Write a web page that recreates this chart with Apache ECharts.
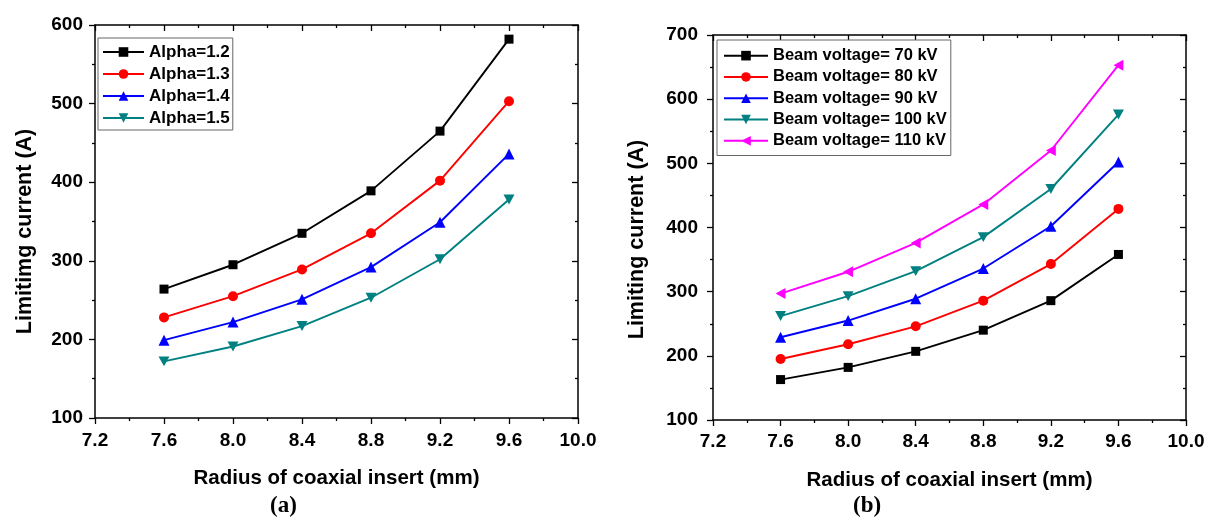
<!DOCTYPE html>
<html>
<head>
<meta charset="utf-8">
<script src="https://cdn.jsdelivr.net/npm/echarts@6/dist/echarts.min.js"></script>
<style>
html,body{margin:0;padding:0;background:#fff;}
#c{width:1211px;height:521px;}
</style>
</head>
<body>
<div id="c"></div>
<script>
// ---- data ----
const radius = [7.6, 8.0, 8.4, 8.8, 9.2, 9.6];
const alphaNames = ['Alpha=1.2', 'Alpha=1.3', 'Alpha=1.4', 'Alpha=1.5'];
const alpha12 = [264, 295, 335, 389, 465, 582];
const alpha13 = [228, 255, 289, 335, 402, 503];
const alpha14 = [199, 222, 251, 292, 349, 436];
const alpha15 = [172, 191, 217, 253, 302, 378];
const voltNames = ['Beam voltage= 70 kV', 'Beam voltage= 80 kV', 'Beam voltage= 90 kV', 'Beam voltage= 100 kV', 'Beam voltage= 110 kV'];
const v70 = [163, 182, 207, 240, 286, 358];
const v80 = [195, 218, 246, 286, 343, 429];
const v90 = [229, 255, 289, 336, 402, 502];
const v100 = [262, 293, 332, 385, 460, 576];
const v110 = [297, 331, 376, 436, 520, 653];
const xTitle = 'Radius of coaxial insert (mm)';
const yTitleA = 'Limitimg current (A)';
const yTitleB = 'Limiting current (A)';
const panelLabels = ['(a)', '(b)'];

// ---- styles ----
const FONT = "'Liberation Sans', Arial, Helvetica, sans-serif";
const colors = ['#000000', '#ff0000', '#0000ff', '#008080', '#ff00ff'];
const SYM_DOWN = 'path://M0,0L10,0L5,9Z';
const SYM_LEFT = 'path://M0,5L9,0L9,10Z';
const symbols = ['rect', 'circle', 'triangle', SYM_DOWN, SYM_LEFT];
const symSizes = [9, 10, 11, 11, 11];

const pairs = arr => radius.map((x, i) => [x, arr[i]]);

function mkSeries(name, arr, idx, axisIdx) {
  return {
    name: name, type: 'line', data: pairs(arr),
    xAxisIndex: axisIdx * 2, yAxisIndex: axisIdx * 2,
    symbol: symbols[idx], symbolSize: symSizes[idx], symbolKeepAspect: true,
    showSymbol: true,
    lineStyle: {color: colors[idx], width: 1.9},
    itemStyle: {color: colors[idx]},
    animation: false, z: 3
  };
}

function xAxes(gridIndex, labelMargin) {
  const common = {
    type: 'value', gridIndex: gridIndex, min: 7.2, max: 10.0, interval: 0.4,
    axisLine: {show: true, onZero: false, lineStyle: {color: '#000', width: 1.5}},
    splitLine: {show: false},
    minorTick: {show: true, splitNumber: 2, length: 3, lineStyle: {color: '#000', width: 1.3}},
    axisTick: {show: true, length: 6, lineStyle: {color: '#000', width: 1.3}}
  };
  return [
    Object.assign({}, common, {
      position: 'bottom',
      axisTick: {show: true, inside: false, length: 6, lineStyle: {color: '#000', width: 1.3}},
      axisLabel: {margin: labelMargin, fontFamily: FONT, fontWeight: 'bold', fontSize: 19, color: '#000',
        formatter: v => v.toFixed(1)},
      name: xTitle, nameLocation: 'middle', nameGap: 50,
      nameTextStyle: {fontFamily: FONT, fontWeight: 'bold', fontSize: 20.5, color: '#000'}
    }),
    Object.assign({}, common, {
      position: 'top',
      axisTick: {show: true, inside: true, length: 6, lineStyle: {color: '#000', width: 1.3}},
      axisLabel: {show: false}
    })
  ];
}

function yAxes(gridIndex, max, title, labelMargin, nameGap, shiftPad) {
  const common = {
    type: 'value', gridIndex: gridIndex, min: 100, max: max, interval: 100,
    axisLine: {show: true, onZero: false, lineStyle: {color: '#000', width: 1.5}},
    splitLine: {show: false},
    minorTick: {show: true, splitNumber: 2, length: 3, lineStyle: {color: '#000', width: 1.3}}
  };
  return [
    Object.assign({}, common, {
      position: 'left',
      axisTick: {show: true, inside: false, length: 6, lineStyle: {color: '#000', width: 1.3}},
      axisLabel: {margin: labelMargin, fontFamily: FONT, fontWeight: 'bold', fontSize: 19, color: '#000'},
      name: title, nameLocation: 'middle', nameGap: nameGap, nameRotate: 90,
      nameTextStyle: {fontFamily: FONT, fontWeight: 'bold', fontSize: 21.5, color: '#000',
        padding: [0, shiftPad, 0, 0]}
    }),
    Object.assign({}, common, {
      position: 'right',
      axisTick: {show: true, inside: true, length: 6, lineStyle: {color: '#000', width: 1.3}},
      axisLabel: {show: false}
    })
  ];
}

const alphaData = [alpha12, alpha13, alpha14, alpha15];
const voltData = [v70, v80, v90, v100, v110];

const series = [];
alphaNames.forEach((n, i) => series.push(mkSeries(n, alphaData[i], i, 0)));
voltNames.forEach((n, i) => series.push(mkSeries(n, voltData[i], i, 1)));

const legendText = size => ({fontFamily: FONT, fontWeight: 'bold', fontSize: size, color: '#000'});

const option = {
  backgroundColor: '#ffffff',
  animation: false,
  grid: [
    {left: 95, top: 25, width: 483, height: 393},
    {left: 713, top: 35, width: 473, height: 385}
  ],
  xAxis: xAxes(0, 13).concat(xAxes(1, 12)),
  yAxis: yAxes(0, 600, yTitleA, 12, 59, 20).concat(yAxes(1, 700, yTitleB, 15, 65, 24)),
  legend: [
    {
      data: alphaNames, orient: 'vertical', left: 98, top: 38,
      itemWidth: 41, itemHeight: 12, itemGap: 0, padding: [3, 3, 1, 4],
      borderColor: '#666', borderWidth: 1, backgroundColor: '#fff',
      textStyle: Object.assign(legendText(17), {lineHeight: 22}),
      selectedMode: false
    },
    {
      data: voltNames, orient: 'vertical', left: 717, top: 40,
      itemWidth: 44, itemHeight: 12, itemGap: 0, padding: [5, 4, 4, 6],
      borderColor: '#666', borderWidth: 1, backgroundColor: '#fff',
      textStyle: Object.assign(legendText(16.5), {lineHeight: 21.3}),
      selectedMode: false
    }
  ],
  graphic: [
    {type: 'text', left: 270, top: 495, style: {text: panelLabels[0], font: "bold 23px 'Liberation Serif', 'Times New Roman', serif", fill: '#000'}},
    {type: 'text', left: 853, top: 495, style: {text: panelLabels[1], font: "bold 23px 'Liberation Serif', 'Times New Roman', serif", fill: '#000'}}
  ],
  series: series
};

const chart = echarts.init(document.getElementById('c'), null, {renderer: 'canvas'});
chart.setOption(option);
</script>
</body>
</html>
